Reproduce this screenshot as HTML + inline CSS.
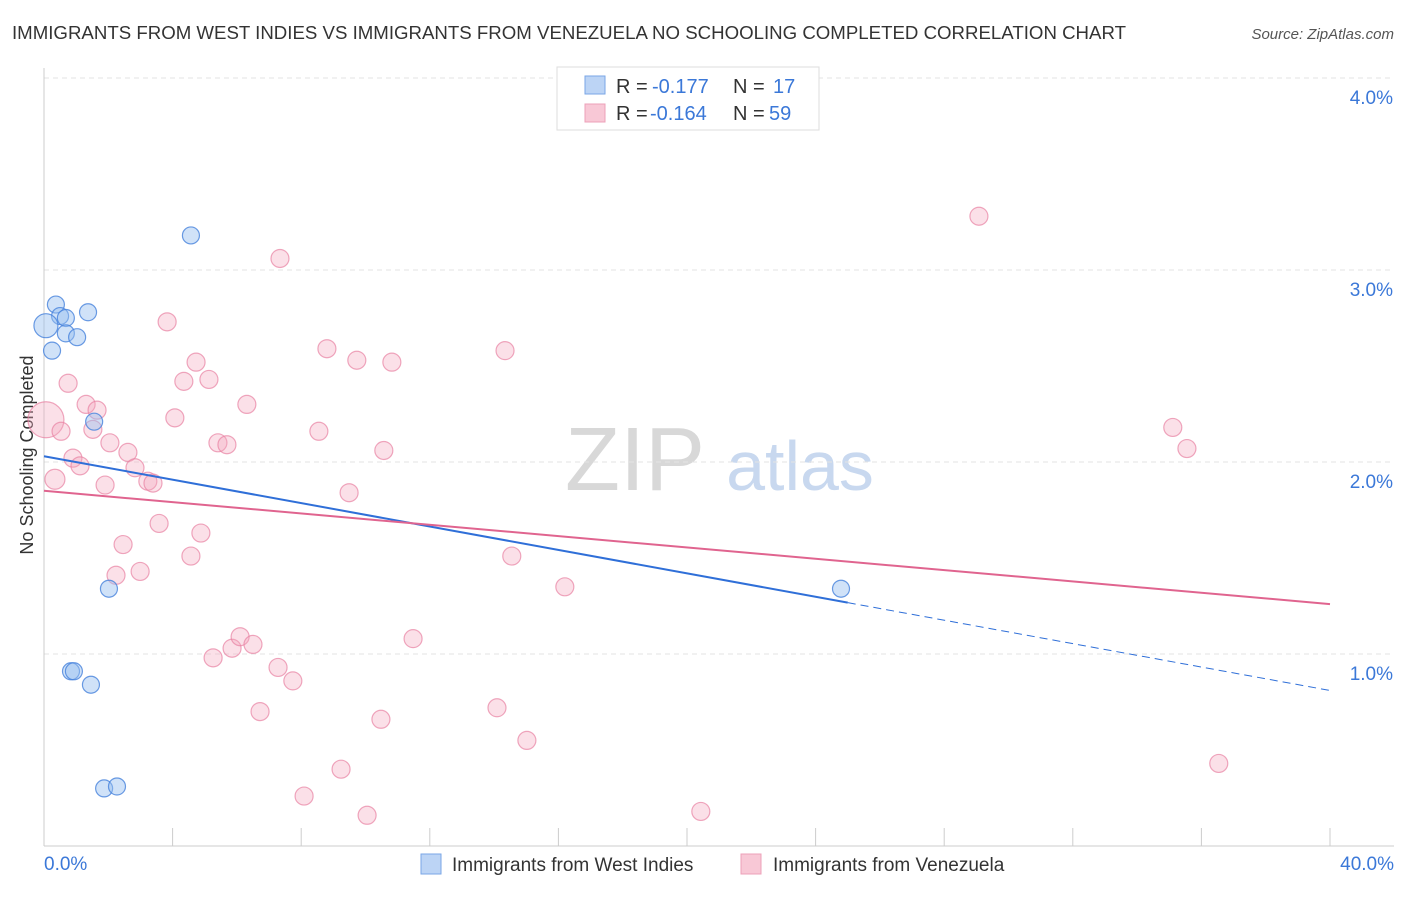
<!DOCTYPE html>
<html><head><meta charset="utf-8"><style>
body{margin:0;background:#fff;font-family:"Liberation Sans",sans-serif;}
svg text{font-family:"Liberation Sans",sans-serif;}
</style></head><body>
<svg id="c" width="1406" height="892">
<text x="12" y="39" font-size="18" fill="#333" textLength="1114" lengthAdjust="spacingAndGlyphs">IMMIGRANTS FROM WEST INDIES VS IMMIGRANTS FROM VENEZUELA NO SCHOOLING COMPLETED CORRELATION CHART</text>
<text x="1394" y="39" font-size="15" fill="#555" font-style="italic" text-anchor="end">Source: ZipAtlas.com</text>
<text x="33" y="455" font-size="18" fill="#333" text-anchor="middle" transform="rotate(-90 33 455)">No Schooling Completed</text>
<text x="635" y="490" font-size="90" fill="#d8d8d8" font-family="Liberation Serif" text-anchor="middle">ZIP</text>
<text x="800" y="490" font-size="70" fill="#c8d8ef" text-anchor="middle">atlas</text>
<g id="grid"></g><g id="pts"></g><g id="lines"></g>
<g>
<rect x="557" y="67" width="262" height="63" fill="#fff" stroke="#ddd"/>
<rect x="585" y="76" width="20" height="18" fill="#bcd4f5" stroke="#7aa6e6"/>
<rect x="585" y="104" width="20" height="18" fill="#f8c8d6" stroke="#eda0b8"/>
<text x="616" y="93" font-size="20" fill="#333">R =</text><text x="652" y="93" font-size="20" fill="#3b78d8">-0.177</text>
<text x="733" y="93" font-size="20" fill="#333">N =</text><text x="773" y="93" font-size="20" fill="#3b78d8">17</text>
<text x="616" y="120" font-size="20" fill="#333">R =</text><text x="650" y="120" font-size="20" fill="#3b78d8">-0.164</text>
<text x="733" y="120" font-size="20" fill="#333">N =</text><text x="769" y="120" font-size="20" fill="#3b78d8">59</text>
</g>
<g>
<rect x="421" y="854" width="20" height="20" fill="#bcd4f5" stroke="#7aa6e6"/>
<text x="452" y="871" font-size="19" fill="#333">Immigrants from West Indies</text>
<rect x="741" y="854" width="20" height="20" fill="#f8c8d6" stroke="#eda0b8"/>
<text x="773" y="871" font-size="19" fill="#333">Immigrants from Venezuela</text>
</g>
</svg>
<script>
const yTicks=[1,2,3,4];
const xTickLabels=["0.0%","40.0%"];
const blueX=[0.37,0.50,0.68,1.37,0.68,1.03,0.06,0.25,1.56,4.57,2.02,0.84,0.93,1.46,1.87,2.27,24.79];
const blueY=[2.82,2.76,2.75,2.78,2.67,2.65,2.71,2.58,2.21,3.18,1.34,0.91,0.91,0.84,0.30,0.31,1.34];
const pinkX=[0.06,0.34,0.53,0.75,0.90,1.12,1.31,1.65,1.52,1.90,2.05,2.61,2.83,3.23,3.39,2.24,2.46,2.99,3.58,3.83,4.07,4.35,4.73,5.13,4.57,4.88,5.41,5.69,6.31,7.34,8.55,8.80,9.73,10.82,10.57,9.49,14.34,14.55,16.20,11.48,5.26,5.85,6.10,6.50,7.28,7.74,6.72,10.48,14.09,15.02,9.24,8.09,10.05,20.43,29.08,35.11,35.55,36.54];
const pinkY=[2.22,1.91,2.16,2.41,2.02,1.98,2.30,2.27,2.17,1.88,2.10,2.05,1.97,1.90,1.89,1.41,1.57,1.43,1.68,2.73,2.23,2.42,2.52,2.43,1.51,1.63,2.10,2.09,2.30,3.06,2.16,2.59,2.53,2.52,2.06,1.84,2.58,1.51,1.35,1.08,0.98,1.03,1.09,1.05,0.93,0.86,0.70,0.66,0.72,0.55,0.40,0.26,0.16,0.18,3.28,2.18,2.07,0.43];
const blueTrend=[2.03,0.81];
const pinkTrend=[1.85,1.26];
const blueSolidEnd=25;
const NS="http://www.w3.org/2000/svg";
const X=v=>44+v/40*1286, Y=v=>846-v*192;
function mk(t,a,p){const e=document.createElementNS(NS,t);for(const k in a)e.setAttribute(k,a[k]);p.appendChild(e);return e;}
const g=document.getElementById('grid');
yTicks.forEach(t=>{
 const l=mk('line',{x1:44,x2:1394,y1:Y(t),y2:Y(t),stroke:'#e3e3e3','stroke-dasharray':'5,4'},g);
 
 
 const tx=mk('text',{x:1393,y:Y(t)+26,'font-size':19,fill:'#3b78d8','text-anchor':'end'},g);tx.textContent=t.toFixed(1)+'%';
 
 
});
const ax=mk('line',{x1:44,x2:44,y1:68,y2:846,stroke:'#ccc'},g);


const bx=mk('line',{x1:44,x2:1394,y1:846,y2:846,stroke:'#ccc'},g);


for(let i=0;i<=10;i++){const t=mk('line',{x1:X(i*4),x2:X(i*4),y1:828,y2:846,stroke:'#ccc'},g);
 
 }
[[0,'start',44],[40,'end',1394]].forEach((d,i)=>{const t=mk('text',{x:d[2],y:870,'font-size':19,fill:'#3b78d8','text-anchor':d[1]},g);t.textContent=xTickLabels[i];
 
 });
const p=document.getElementById('pts');
pinkX.forEach((v,i)=>{const r=i==0?18:(i==1?10:9);const c=mk('circle',{cx:X(v),cy:Y(pinkY[i]),r:r,fill:'rgba(244,167,190,0.35)',stroke:'rgba(232,130,162,0.7)','stroke-width':1.2},p);
 
 });
blueX.forEach((v,i)=>{const r=i==6?12:8.5;const c=mk('circle',{cx:X(v),cy:Y(blueY[i]),r:r,fill:'rgba(150,190,240,0.45)',stroke:'rgba(70,130,220,0.8)','stroke-width':1.2},p);
 
 });
const L=document.getElementById('lines');
const by=x=>blueTrend[0]+(blueTrend[1]-blueTrend[0])*x/40;
const b1=mk('line',{x1:X(0),y1:Y(by(0)),x2:X(blueSolidEnd),y2:Y(by(blueSolidEnd)),stroke:'#2f6fd8','stroke-width':2},L);


const b2=mk('line',{x1:X(blueSolidEnd),y1:Y(by(blueSolidEnd)),x2:X(40),y2:Y(by(40)),stroke:'#2f6fd8','stroke-width':1,'stroke-dasharray':'8,5'},L);


const pl=mk('line',{x1:X(0),y1:Y(pinkTrend[0]),x2:X(40),y2:Y(pinkTrend[1]),stroke:'#e0648f','stroke-width':2},L);


</script>
</body></html>
